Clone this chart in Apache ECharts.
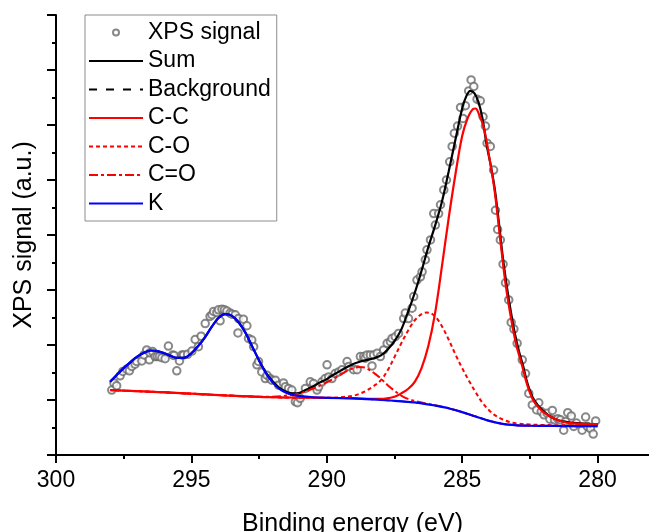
<!DOCTYPE html>
<html>
<head>
<meta charset="utf-8">
<script src="https://cdn.jsdelivr.net/npm/echarts@6/dist/echarts.min.js"></script>
<style>html,body{margin:0;padding:0;background:#fff}#c{width:649px;height:532px}</style>
</head>
<body>
<div id="c"></div>
<script>
// ---- data (x = binding energy eV, y = signal in axis units) ----
var xTicks = [300, 295, 290, 285, 280];
var xMinorTicks = [297.5, 292.5, 287.5, 282.5];

var signalPts = [
[297.94,1.18],[297.86,1.31],[297.76,1.26],[297.63,1.44],[297.53,1.52],[297.39,1.56],[297.29,1.53],[297.2,1.61],
[297.08,1.65],[297.02,1.70],[296.83,1.71],[296.75,1.82],[296.65,1.91],[296.55,1.73],[296.53,1.86],[296.43,1.88],
[296.34,1.79],[296.26,1.79],[296.18,1.79],[296.09,1.77],[295.97,1.75],[295.85,1.98],[295.69,1.82],[295.64,1.81],
[295.54,1.53],[295.44,1.71],[295.35,1.82],[295.29,1.82],[295.14,1.83],[294.98,1.89],[294.86,2.10],[294.74,1.97],
[294.64,2.16],[294.49,2.39],[294.31,2.52],[294.24,2.55],[294.18,2.61],[294.06,2.59],[294.0,2.64],[293.94,2.44],
[293.87,2.65],[293.78,2.64],[293.69,2.62],[293.57,2.58],[293.5,2.56],[293.38,2.55],[293.28,2.22],[293.26,2.48],
[293.08,2.47],[292.95,2.35],[292.89,2.12],[292.77,2.09],[292.7,1.97],[292.58,1.64],[292.52,1.70],[292.4,1.51],
[292.27,1.39],[292.21,1.45],[292.09,1.39],[292.03,1.36],[291.9,1.36],[291.78,1.27],[291.6,1.31],[291.53,1.24],
[291.41,1.21],[291.29,1.18],[291.16,0.97],[291.08,0.95],[290.98,1.03],[290.79,1.21],[290.61,1.33],[290.49,1.30],
[290.36,1.18],[290.3,1.24],[290.18,1.33],[290.06,1.39],[289.99,1.64],[289.93,1.42],[289.81,1.39],[289.69,1.48],
[289.56,1.51],[289.44,1.55],[289.25,1.70],[289.19,1.61],[289.01,1.55],[288.88,1.55],[288.76,1.79],[288.64,1.79],
[288.58,1.76],[288.51,1.82],[288.39,1.82],[288.33,1.62],[288.27,1.82],[288.14,1.85],[288.02,1.79],[287.9,1.91],
[287.77,2.03],[287.65,2.06],[287.59,2.12],[287.47,2.15],[287.35,2.21],[287.16,2.48],[287.1,2.58],[286.98,2.48],
[286.85,2.67],[286.79,2.88],[286.67,3.18],[286.54,3.24],[286.48,3.33],[286.36,3.55],[286.3,3.73],[286.17,3.91],
[286.05,4.39],[285.99,4.18],[285.87,4.39],[285.8,4.55],[285.68,4.82],[285.58,5.00],[285.46,5.33],[285.37,5.61],
[285.29,5.85],[285.17,5.98],[285.06,6.32],[284.97,6.12],[284.88,6.35],[284.76,6.62],[284.67,6.82],[284.57,6.70],
[284.45,6.47],[284.33,6.44],[284.23,6.15],[284.14,5.98],[284.08,5.67],[283.96,5.61],[283.84,5.18],[283.77,4.45],
[283.69,4.10],[283.59,3.91],[283.49,3.47],[283.4,3.13],[283.28,2.82],[283.19,2.41],[283.09,2.29],[282.97,2.03],
[282.78,1.73],[282.66,1.48],[282.54,1.12],[282.41,0.91],[282.25,0.82],[282.17,0.95],[282.08,0.79],[281.98,0.73],
[281.86,0.76],[281.76,0.65],[281.67,0.81],[281.59,0.64],[281.47,0.66],[281.37,0.64],[281.25,0.45],[281.18,0.61],
[281.1,0.77],[280.97,0.71],[280.88,0.52],[280.78,0.58],[280.57,0.45],[280.44,0.69],[280.38,0.52],[280.26,0.48],
[280.16,0.38],[280.07,0.62]
];

var sumPts = [
[298.0,1.33],[297.75,1.46],[297.5,1.58],[297.25,1.69],[297.0,1.79],[296.75,1.86],[296.5,1.90],[296.25,1.89],
[296.0,1.85],[295.75,1.80],[295.5,1.765],[295.25,1.77],[295.0,1.85],[294.75,1.98],[294.5,2.14],[294.25,2.33],
[294.0,2.49],[293.75,2.56],[293.5,2.53],[293.25,2.41],[293.0,2.22],[292.75,1.97],[292.5,1.72],[292.25,1.50],
[292.0,1.34],[291.75,1.22],[291.5,1.15],[291.25,1.12],[291.0,1.13],[290.75,1.19],[290.5,1.25],[290.25,1.32],
[290.0,1.38],[289.75,1.46],[289.5,1.53],[289.25,1.60],[289.0,1.66],[288.75,1.70],[288.5,1.73],[288.25,1.76],
[288.0,1.81],[287.75,1.92],[287.5,2.07],[287.25,2.28],[287.0,2.60],[286.75,2.95],[286.5,3.35],[286.25,3.78],
[286.0,4.17],[285.75,4.60],[285.5,5.15],[285.25,5.73],[285.0,6.30],[284.85,6.52],[284.7,6.62],[284.55,6.58],
[284.4,6.42],[284.25,6.12],[284.1,5.65],[283.95,5.28],[283.8,4.85],[283.65,4.25],[283.5,3.60],[283.35,3.06],
[283.2,2.60],[283.05,2.20],[282.9,1.88],[282.75,1.62],[282.6,1.32],[282.4,1.05],[282.2,0.90],[282.0,0.80],
[281.75,0.70],[281.5,0.64],[281.25,0.61],[281.0,0.59],[280.5,0.57],[280.0,0.56]
];

var backgroundPts = [
[298.0,1.18],[297.0,1.16],[296.0,1.14],[295.0,1.11],[294.0,1.09],[293.0,1.07],[292.0,1.05],[291.0,1.045],
[290.0,1.04],[289.0,1.03],[288.0,1.00],[287.5,0.985],[287.0,0.965],[286.5,0.94],[286.0,0.90],[285.5,0.85],
[285.0,0.78],[284.5,0.70],[284.0,0.62],[283.5,0.565],[283.0,0.54],[282.5,0.532],[282.0,0.53],[281.0,0.525],
[280.0,0.525]
];

var ccPts = [
[298.0,1.18],[296.0,1.14],[294.0,1.09],[292.0,1.05],[290.0,1.04],[289.0,1.03],[288.0,1.02],[287.5,1.06],
[287.25,1.12],[287.0,1.20],[286.75,1.33],[286.5,1.58],[286.25,1.98],[286.0,2.58],[285.75,3.42],[285.5,4.30],
[285.25,5.10],[285.0,5.80],[284.8,6.12],[284.6,6.29],[284.5,6.30],[284.4,6.22],[284.2,5.95],[284.0,5.42],
[283.8,4.80],[283.6,3.95],[283.4,3.12],[283.2,2.50],[283.0,2.00],[282.8,1.65],[282.6,1.28],[282.4,1.02],
[282.2,0.88],[282.0,0.78],[281.75,0.70],[281.5,0.64],[281.25,0.60],[281.0,0.58],[280.5,0.565],[280.0,0.56]
];

var coPts = [
[298.0,1.18],[296.0,1.14],[294.0,1.09],[292.0,1.05],[290.0,1.04],[289.5,1.05],[289.0,1.08],[288.75,1.12],
[288.5,1.18],[288.25,1.26],[288.0,1.36],[287.75,1.54],[287.5,1.78],[287.25,2.03],[287.0,2.26],[286.75,2.45],
[286.5,2.56],[286.3,2.59],[286.1,2.56],[285.9,2.46],[285.7,2.30],[285.5,2.10],[285.25,1.83],[285.0,1.58],
[284.75,1.35],[284.5,1.14],[284.25,0.95],[284.0,0.81],[283.75,0.71],[283.5,0.645],[283.25,0.60],[283.0,0.575],
[282.5,0.555],[282.0,0.545],[281.0,0.54],[280.0,0.54]
];

var coDoublePts = [
[298.0,1.18],[296.0,1.14],[294.0,1.09],[292.5,1.06],[292.0,1.06],[291.5,1.08],[291.0,1.12],[290.5,1.21],
[290.0,1.32],[289.5,1.46],[289.25,1.53],[289.0,1.58],[288.8,1.60],[288.6,1.59],[288.4,1.54],[288.2,1.47],
[288.0,1.39],[287.75,1.27],[287.5,1.17],[287.25,1.08],[287.0,1.02],[286.5,0.955],[286.0,0.905],[285.5,0.85],
[285.0,0.78],[284.5,0.70],[284.0,0.62],[283.5,0.565],[283.0,0.54],[282.0,0.53],[281.0,0.525],[280.0,0.525]
];

var kPts = [
[298.0,1.33],[297.75,1.46],[297.5,1.58],[297.25,1.69],[297.0,1.79],[296.75,1.86],[296.5,1.90],[296.25,1.89],
[296.0,1.85],[295.75,1.80],[295.5,1.765],[295.25,1.77],[295.0,1.85],[294.75,1.98],[294.5,2.14],[294.25,2.33],
[294.0,2.49],[293.75,2.56],[293.5,2.53],[293.25,2.41],[293.0,2.22],[292.75,1.97],[292.5,1.72],[292.25,1.49],
[292.0,1.32],[291.75,1.20],[291.5,1.13],[291.25,1.09],[291.0,1.07],[290.5,1.05],[290.0,1.04],[289.0,1.03],
[288.0,1.00],[287.5,0.985],[287.0,0.965],[286.5,0.94],[286.0,0.90],[285.5,0.85],[285.0,0.78],[284.5,0.70],
[284.0,0.62],[283.5,0.565],[283.0,0.54],[282.5,0.532],[282.0,0.53],[281.0,0.525],[280.0,0.525]
];

var FONT = "'Liberation Sans', Arial, sans-serif";
var RED = '#ff0000', BLUE = '#0000ff';
var X_MIN = 278.1, X_MAX = 300;

var chart = echarts.init(document.getElementById('c'), null, {renderer: 'canvas'});
function lineSeries(name, data, color, width, type) {
  return {name: name, type: 'line', data: data, smooth: 0.35, showSymbol: false, symbol: 'none',
    lineStyle: {color: color, width: width, type: type}, itemStyle: {color: color}, z: 3};
}
function legendLine(name, color, type) {
  return {name: name, itemStyle: {opacity: 0}, lineStyle: {color: color, width: 2, type: type}};
}
chart.setOption({
  animation: false,
  backgroundColor: '#fff',
  grid: {left: 56, right: 0, top: 15, bottom: 77, outerBoundsMode: 'none', containLabel: false},
  xAxis: [{
    type: 'value', min: X_MIN, max: X_MAX, inverse: true,
    name: 'Binding energy (eV)', nameLocation: 'middle', nameGap: 57,
    nameTextStyle: {fontSize: 25, color: '#000', fontFamily: FONT},
    axisLine: {lineStyle: {color: '#000', width: 2}},
    axisTick: {length: 8, customValues: xTicks, lineStyle: {color: '#000', width: 2}},
    axisLabel: {fontSize: 23, color: '#000', fontFamily: FONT, margin: 14, customValues: xTicks},
    splitLine: {show: false}
  }, {
    type: 'value', min: X_MIN, max: X_MAX, inverse: true, position: 'bottom',
    axisLine: {show: false},
    axisTick: {length: 4, customValues: xMinorTicks, lineStyle: {color: '#000', width: 2}},
    axisLabel: {show: false, customValues: xMinorTicks},
    splitLine: {show: false}
  }],
  yAxis: {
    type: 'value', min: 0, max: 8, interval: 1,
    name: 'XPS signal (a.u.)', nameLocation: 'middle', nameGap: 19,
    nameTextStyle: {fontSize: 25, color: '#000', fontFamily: FONT},
    axisLine: {show: true, lineStyle: {color: '#000', width: 2}},
    axisTick: {show: true, length: 9, lineStyle: {color: '#000', width: 2}},
    minorTick: {show: true, splitNumber: 2, length: 4, lineStyle: {color: '#000', width: 2}},
    axisLabel: {show: false},
    splitLine: {show: false}
  },
  legend: {
    orient: 'vertical', left: 85, top: 15, padding: [6, 6, 6, 3], itemGap: 5.5,
    itemWidth: 54, itemHeight: 6,
    borderColor: '#8c8c8c', borderWidth: 1, backgroundColor: '#fff',
    textStyle: {fontSize: 23, lineHeight: 23, color: '#000', fontFamily: FONT},
    data: [
      {name: 'XPS signal'},
      legendLine('Sum', '#000', 'solid'),
      legendLine('Background', '#000', [8, 9]),
      legendLine('C-C', RED, 'solid'),
      legendLine('C-O', RED, [4, 3]),
      legendLine('C=O', RED, [9, 3, 3, 3]),
      legendLine('K', BLUE, 'solid')
    ]
  },
  series: [
    {name: 'XPS signal', type: 'scatter', data: signalPts, symbol: 'emptyCircle', symbolSize: 7.5,
      itemStyle: {color: '#6a6a6a', borderWidth: 0.9}, z: 2},
    lineSeries('Sum', sumPts, '#000', 2.2, 'solid'),
    lineSeries('Background', backgroundPts, '#000', 1.5, [8, 9]),
    lineSeries('C-C', ccPts, RED, 2.2, 'solid'),
    lineSeries('C-O', coPts, RED, 2, [4, 3]),
    lineSeries('C=O', coDoublePts, RED, 2, [9, 3, 3, 3]),
    lineSeries('K', kPts, BLUE, 2.2, 'solid')
  ]
});
</script>
</body>
</html>
